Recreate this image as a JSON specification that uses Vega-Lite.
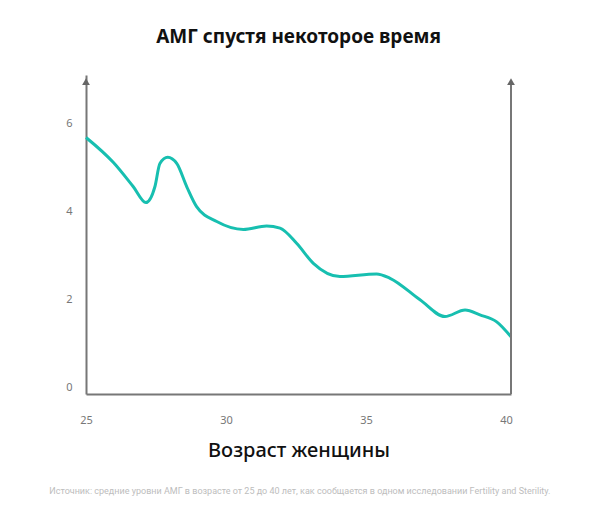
{
  "$schema": "https://vega.github.io/schema/vega-lite/v6.json",
  "width": 425,
  "height": 319,
  "autosize": {"type": "none"},
  "padding": {"left": 86, "top": 75, "right": 89, "bottom": 114},
  "config": {"view": {"stroke": null}, "font": "Noto Sans"},
  "title": {
    "text": "АМГ спустя некоторое время",
    "fontSize": 19,
    "fontWeight": "bold",
    "color": "#111111",
    "offset": 28
  },
  "datasets": {
    "amh": [
      {"age": 25.0, "amh": 5.83},
      {"age": 25.98, "amh": 5.26},
      {"age": 26.69, "amh": 4.71},
      {"age": 27.14, "amh": 4.35},
      {"age": 27.46, "amh": 4.71},
      {"age": 27.64, "amh": 5.24},
      {"age": 27.92, "amh": 5.38},
      {"age": 28.24, "amh": 5.24},
      {"age": 28.6, "amh": 4.71},
      {"age": 28.95, "amh": 4.26},
      {"age": 29.67, "amh": 3.92},
      {"age": 30.62, "amh": 3.74},
      {"age": 31.45, "amh": 3.82},
      {"age": 31.93, "amh": 3.77},
      {"age": 32.53, "amh": 3.42},
      {"age": 33.12, "amh": 2.97},
      {"age": 34.07, "amh": 2.67},
      {"age": 35.38, "amh": 2.73},
      {"age": 35.86, "amh": 2.63},
      {"age": 36.93, "amh": 2.14},
      {"age": 37.82, "amh": 1.76},
      {"age": 38.54, "amh": 1.91},
      {"age": 39.07, "amh": 1.8},
      {"age": 39.67, "amh": 1.64},
      {"age": 40.18, "amh": 1.3}
    ],
    "arrows": [
      {"age": 25, "amh": 7.1},
      {"age": 40.18, "amh": 7.1}
    ]
  },
  "layer": [
    {
      "data": {"name": "amh"},
      "mark": {"type": "line", "interpolate": "monotone", "color": "#17bfb0", "strokeWidth": 3},
      "encoding": {
        "x": {
          "field": "age",
          "type": "quantitative",
          "scale": {"domain": [25, 40.18], "nice": false, "zero": false},
          "axis": {
            "values": [25, 30, 35, 40],
            "title": "Возраст женщины",
            "titleFontSize": 20,
            "titleFontWeight": 500,
            "titleColor": "#111111",
            "titlePadding": 15,
            "labelFontSize": 11,
            "labelColor": "#777777",
            "labelPadding": 20,
            "labelFlush": false,
            "ticks": false,
            "grid": false,
            "domainColor": "#777777",
            "domainWidth": 2
          }
        },
        "y": {
          "field": "amh",
          "type": "quantitative",
          "scale": {"domain": [0, 7.25], "nice": false},
          "axis": {
            "values": [0, 2, 4, 6],
            "title": null,
            "labelFontSize": 11,
            "labelColor": "#777777",
            "labelPadding": 14,
            "labelOffset": -7,
            "ticks": false,
            "grid": false,
            "domainColor": "#777777",
            "domainWidth": 2
          }
        }
      }
    },
    {
      "data": {"name": "arrows"},
      "mark": {"type": "rule", "color": "#777777", "strokeWidth": 2},
      "transform": [{"filter": "datum.age > 30"}],
      "encoding": {
        "x": {"field": "age", "type": "quantitative"},
        "y": {"field": "amh", "type": "quantitative"},
        "y2": {"datum": 0}
      }
    },
    {
      "data": {"name": "arrows"},
      "mark": {"type": "point", "shape": "triangle-up", "filled": true, "color": "#666666", "size": 60, "opacity": 1},
      "encoding": {
        "x": {"field": "age", "type": "quantitative"},
        "y": {"field": "amh", "type": "quantitative"}
      }
    },
    {
      "data": {"values": [{"note": "Источник: средние уровни АМГ в возрасте от 25 до 40 лет, как сообщается в одном исследовании Fertility and Sterility."}]},
      "mark": {"type": "text", "font": "Roboto", "fontSize": 9, "color": "#bdbdbd"},
      "encoding": {
        "x": {"datum": 32.64, "type": "quantitative"},
        "y": {"datum": -2.2, "type": "quantitative"},
        "text": {"field": "note"}
      }
    }
  ]
}
